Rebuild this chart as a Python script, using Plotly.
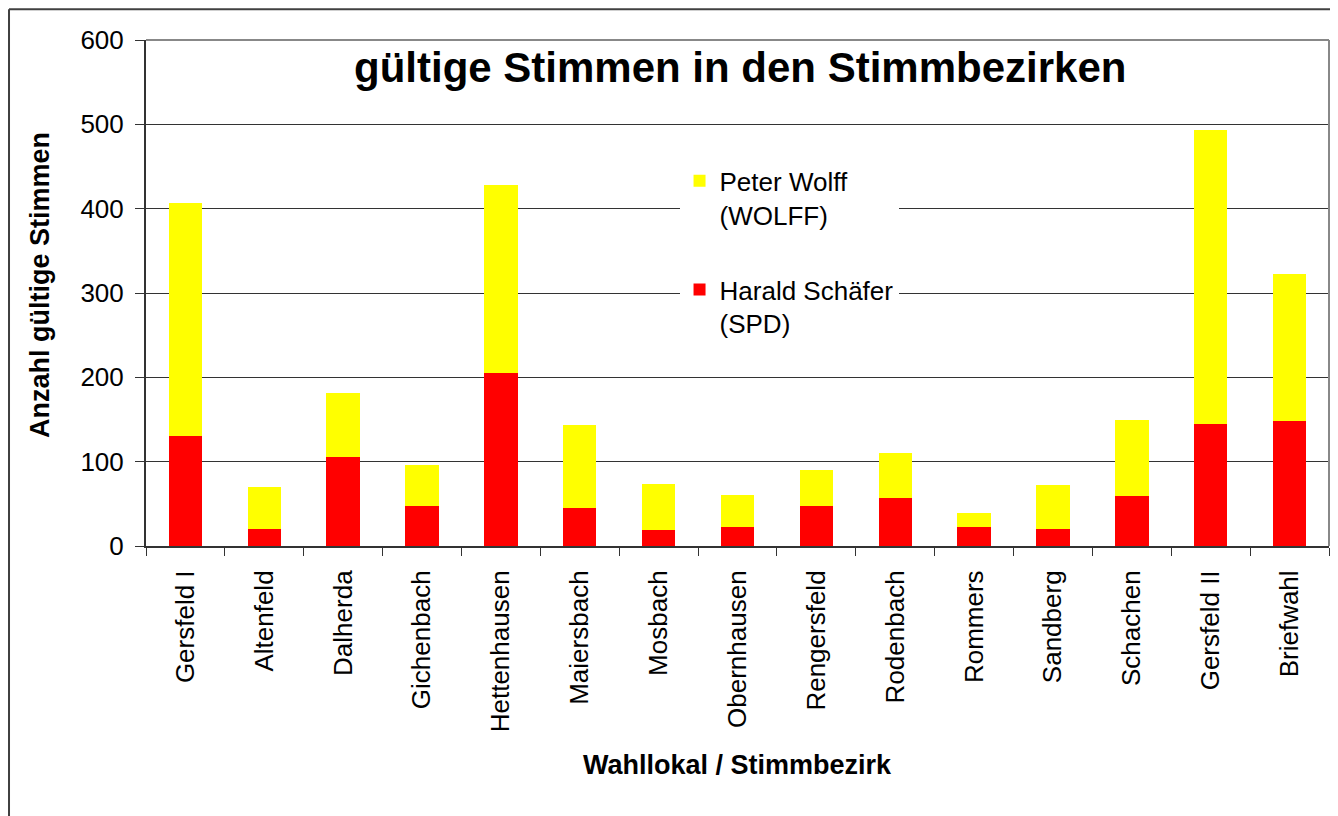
import plotly.graph_objs as go

# Stimmbezirke und Stimmen
bezirke = ["Gersfeld I", "Altenfeld", "Dalherda", "Gichenbach", "Hettenhausen",
           "Maiersbach", "Mosbach", "Obernhausen", "Rengersfeld", "Rodenbach",
           "Rommers", "Sandberg", "Schachen", "Gersfeld II", "Briefwahl"]
stimmen_spd = [130, 20, 106, 48, 205, 45, 19, 22, 47, 57, 22, 20, 59, 145, 148]
stimmen_wolff = [277, 50, 76, 48, 223, 98, 55, 39, 43, 53, 17, 52, 90, 348, 174]
y_ticks = [0, 100, 200, 300, 400, 500, 600]

FONT = "Arial, Liberation Sans, sans-serif"

trace_spd = go.Bar(
    x=bezirke,
    y=stimmen_spd,
    name="Harald Schäfer<br>(SPD)",
    marker=dict(color="#FF0000", line=dict(width=0)),
    legendgroup="spd",
    legendrank=2,
)
trace_wolff = go.Bar(
    x=bezirke,
    y=stimmen_wolff,
    name="Peter Wolff<br>(WOLFF)",
    marker=dict(color="#FFFF00", line=dict(width=0)),
    legendgroup="wolff",
    legendrank=1,
)

# Rahmen: Plotbereich oben/rechts grau, Außenrahmen links/oben dunkel
shapes = [
    dict(type="line", xref="paper", yref="paper", x0=0, x1=1, y0=1, y1=1,
         line=dict(color="#888888", width=2)),
    dict(type="line", xref="paper", yref="paper", x0=1, x1=1, y0=0, y1=1,
         line=dict(color="#888888", width=2)),
    dict(type="line", xref="paper", yref="paper", x0=-0.1158, x1=1.01, y0=1.061, y1=1.061,
         line=dict(color="#404040", width=2)),
    dict(type="line", xref="paper", yref="paper", x0=-0.1158, x1=-0.1158, y0=1.061, y1=-0.54,
         line=dict(color="#404040", width=2)),
]

annotations = [
    dict(text="<b>gültige Stimmen in den Stimmbezirken</b>", xref="paper", yref="paper",
         x=0.502, y=0.945, xanchor="center", yanchor="middle", showarrow=False,
         font=dict(size=42, color="black", family=FONT)),
    dict(text="<b>Anzahl gültige Stimmen</b>", xref="paper", yref="paper",
         x=-0.0896, y=0.516, xanchor="center", yanchor="middle", showarrow=False,
         textangle=-90, font=dict(size=27, color="black", family=FONT)),
    dict(text="<b>Wahllokal / Stimmbezirk</b>", xref="paper", yref="paper",
         x=0.5004, y=-0.433, xanchor="center", yanchor="middle", showarrow=False,
         font=dict(size=27, color="black", family=FONT)),
]

layout = go.Layout(
    width=1330,
    height=808,
    barmode="stack",
    bargap=0.576,
    plot_bgcolor="white",
    paper_bgcolor="white",
    font=dict(family=FONT, size=26, color="black"),
    margin=dict(l=138, r=9, t=32, b=270, pad=0),
    xaxis=dict(
        type="category",
        tickangle=-90,
        ticks="outside",
        tickson="boundaries",
        ticklen=8,
        tickcolor="#333333",
        showline=True,
        linecolor="#333333",
        linewidth=2,
        showgrid=False,
        tickfont=dict(size=26, family=FONT, color="black"),
        ticklabelstandoff=12,
    ),
    yaxis=dict(
        range=[0, 600],
        tickvals=y_ticks,
        ticks="outside",
        ticklen=9,
        tickcolor="#333333",
        showline=True,
        linecolor="#333333",
        linewidth=2,
        showgrid=True,
        gridcolor="#333333",
        gridwidth=1,
        zeroline=False,
        tickfont=dict(size=26, family=FONT, color="black"),
        ticklabelstandoff=6,
    ),
    legend=dict(
        x=0.451,
        y=0.768,
        xanchor="left",
        yanchor="top",
        bgcolor="white",
        borderwidth=0,
        traceorder="grouped",
        tracegroupgap=38,
        valign="top",
        font=dict(size=26, family=FONT, color="black"),
    ),
    shapes=shapes,
    annotations=annotations,
)

fig = go.Figure(data=[trace_spd, trace_wolff], layout=layout)
fig.write_html("out.html")
